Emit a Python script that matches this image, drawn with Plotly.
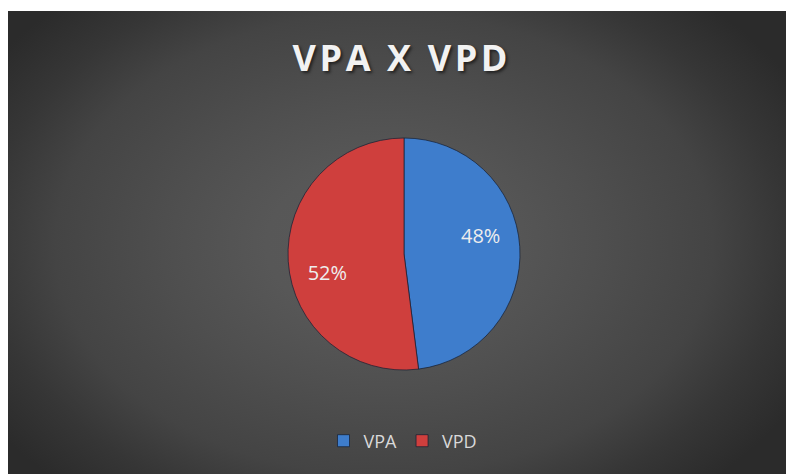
import plotly.graph_objects as go

# Data
categories = ["VPA", "VPD"]
values = [48, 52]
slice_colors = ["#3e7dcc", "#cf3f3d"]
title_text = "VPA X VPD"

# Figure is drawn inside the page body (8px default margin)
W, H = 786, 466
TOP_WHITE = 3
PH = H - TOP_WHITE  # panel height

fig = go.Figure()

# Background panel: radial gradient (decorative), clipped by the plot area
gx, gy, grx, gry = 376, 230, 470, 330
fig.add_trace(go.Scatter(
    x=[gx - grx, gx + grx, gx + grx, gx - grx, gx - grx],
    y=[gy - gry, gy - gry, gy + gry, gy + gry, gy - gry],
    mode="lines", fill="toself", line=dict(width=0),
    fillgradient=dict(type="radial",
                      colorscale=[[0, "#5a5a5a"], [0.25, "#575757"], [0.45, "#4f4f4f"],
                                  [0.7, "#444444"], [0.85, "#363636"], [1, "#2b2b2b"]]),
    hoverinfo="skip", showlegend=False,
))

cx, cy, r = 396, 246, 116
pie_domain = dict(x=[(cx - r) / W, (cx + r) / W], y=[(H - cy - r) / H, (H - cy + r) / H])

fig.add_trace(go.Pie(
    labels=categories, values=values, sort=False,
    direction="clockwise", rotation=0,
    marker=dict(colors=slice_colors, line=dict(color="rgba(20,30,50,0.7)", width=1)),
    textinfo="none",
    domain=pie_domain,
    hoverinfo="label+percent",
))

# Transparent ring overlay used only to place percentage labels
fig.add_trace(go.Pie(
    labels=categories, values=values, sort=False,
    direction="clockwise", rotation=-10, hole=0.36,
    marker=dict(colors=["rgba(0,0,0,0)", "rgba(0,0,0,0)"], line=dict(width=0)),
    texttemplate="%{percent:.0%}", textposition="inside",
    insidetextorientation="horizontal",
    textfont=dict(family="Open Sans", size=20, color="#eeeeee"),
    domain=pie_domain, showlegend=False, hoverinfo="skip",
))

spaced_title = "\u200a".join(title_text)

fig.update_layout(
    width=W, height=H,
    margin=dict(l=0, r=0, t=0, b=0),
    paper_bgcolor="white", plot_bgcolor="rgba(0,0,0,0)",
    xaxis=dict(range=[0, W], domain=[0, 1], visible=False, fixedrange=True),
    yaxis=dict(range=[0, PH], domain=[0, PH / H], visible=False, fixedrange=True),
    title=dict(text=spaced_title, x=392 / W, xanchor="center", y=1 - 50 / H, yanchor="middle",
               font=dict(family="Open Sans", size=36, color="#f2f2f2", weight="bold",
                         shadow="2px 2px 3px rgba(0,0,0,0.55)")),
    legend=dict(orientation="h", x=395 / W, xanchor="center", y=(H - 433) / H, yanchor="middle",
                font=dict(family="Open Sans", size=18, color="#d9d9d9"),
                bgcolor="rgba(0,0,0,0)"),
    showlegend=True,
)

fig.write_html("out.html")
